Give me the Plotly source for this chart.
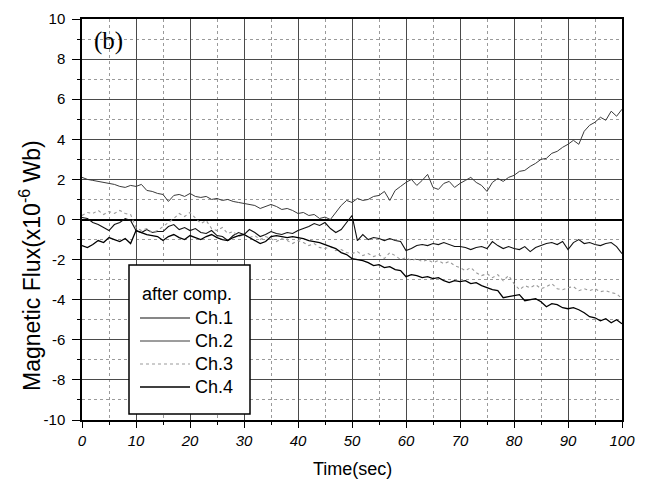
import plotly.graph_objects as go

time_s = list(range(0, 101))

ch1 = [0.10, 0.05, -0.15, -0.25, -0.40, -0.55, -0.25, -0.15, 0.05, -0.05,
       -0.55, -0.65, -0.50, -0.65, -0.60, -0.60, -0.35, -0.25, -0.50, -0.40,
       -0.55, -0.45, -0.65, -0.70, -0.55, -0.80, -0.85, -1.05, -0.80, -0.65,
       -0.75, -0.50, -0.65, -0.85, -0.75, -0.60, -0.70, -0.75, -0.65, -0.70,
       -0.55, -0.45, -0.35, -0.20, -0.30, -0.15, -0.45, -0.65, -0.50, -0.15,
       0.20, -1.05, -0.75, -1.00, -0.90, -0.95, -1.05, -0.95, -1.05, -1.10,
       -1.55, -1.45, -1.30, -1.25, -1.30, -1.20, -1.25, -1.15, -1.25, -1.35,
       -1.35, -1.40, -1.50, -1.40, -1.35, -1.45, -1.10, -1.30, -1.45, -1.35,
       -1.45, -1.50, -1.35, -1.60, -1.40, -1.30, -1.20, -1.15, -1.25, -1.10,
       -1.50, -1.15, -1.00, -1.20, -1.15, -1.25, -1.30, -1.20, -1.15, -1.35,
       -1.70]

ch2 = [2.10, 2.00, 1.95, 1.90, 1.85, 1.80, 1.75, 1.65, 1.60, 1.70,
       1.65, 1.75, 1.45, 1.40, 1.30, 1.25, 0.90, 1.20, 1.25, 1.15,
       1.30, 1.15, 1.10, 1.15, 1.00, 1.05, 0.95, 1.00, 0.90, 0.85,
       0.80, 0.75, 0.70, 0.55, 0.65, 0.75, 0.65, 0.50, 0.55, 0.45,
       0.30, 0.35, 0.20, 0.25, 0.05, 0.12, 0.00, 0.35, 0.70, 0.95,
       0.85, 1.05, 0.95, 1.00, 1.15, 1.20, 1.40, 0.95, 1.45, 1.65,
       1.85, 2.00, 1.70, 1.95, 2.25, 1.60, 1.50, 1.80, 1.90, 1.60,
       1.80, 1.95, 2.10, 1.85, 1.70, 1.40, 1.85, 2.05, 1.90, 2.10,
       2.20, 2.40, 2.45, 2.65, 2.80, 3.00, 3.05, 3.30, 3.40, 3.60,
       3.75, 3.95, 3.75, 4.40, 4.70, 4.85, 5.10, 4.95, 5.40, 5.15,
       5.50]

ch3 = [0.20, 0.35, 0.30, 0.45, 0.25, 0.40, 0.30, 0.45, 0.30, 0.25,
       -0.40, -0.55, -0.45, -0.65, -0.55, -0.35, -0.15, 0.05, 0.30, 0.15,
       0.35, 0.10, -0.20, -0.05, -0.45, -0.55, -0.40, -0.70, -0.60, -0.85,
       -0.75, -0.90, -0.80, -1.00, -0.85, -0.95, -1.10, -0.95, -1.05, -1.20,
       -1.05, -1.15, -1.30, -1.20, -1.40, -1.45, -1.35, -1.55, -1.50, -1.65,
       -1.70, -1.60, -1.80, -1.70, -1.85, -1.75, -1.95, -1.65, -1.80, -2.00,
       -1.90, -2.05, -1.95, -2.10, -2.00, -2.15, -2.05, -2.20, -2.10, -2.30,
       -2.40, -2.55, -2.40, -2.65, -2.80, -2.70, -2.90, -2.75, -3.05, -2.80,
       -3.20, -3.50, -3.30, -3.40, -3.25, -3.45, -3.35, -3.20, -3.45, -3.50,
       -3.40, -3.35, -3.55, -3.45, -3.55, -3.45, -3.60, -3.55, -3.65, -3.70,
       -3.95]

ch4 = [-1.30, -1.40, -1.25, -1.05, -1.15, -0.90, -1.00, -1.10, -0.95, -1.20,
       -0.55, -0.65, -0.75, -0.80, -0.85, -1.05, -0.85, -0.75, -0.90, -1.00,
       -0.80, -0.90, -1.00, -0.85, -0.75, -0.90, -1.00, -1.05, -0.90, -0.80,
       -0.75, -0.90, -1.05, -1.20, -1.10, -0.85, -0.80, -0.85, -0.90, -0.85,
       -0.90, -0.95, -1.05, -1.10, -1.15, -1.25, -1.35, -1.45, -1.65, -1.75,
       -1.95, -2.00, -2.05, -2.15, -2.30, -2.25, -2.40, -2.35, -2.50, -2.55,
       -2.85, -2.75, -2.80, -2.90, -2.85, -2.95, -2.90, -3.05, -3.15, -3.05,
       -3.10, -3.05, -3.20, -3.15, -3.30, -3.40, -3.50, -3.55, -3.90, -3.85,
       -3.80, -3.75, -4.05, -4.00, -3.95, -4.10, -4.35, -4.20, -4.25, -4.40,
       -4.45, -4.40, -4.50, -4.65, -4.85, -4.90, -5.05, -4.95, -5.15, -5.00,
       -5.20]

x_ticks = [0, 10, 20, 30, 40, 50, 60, 70, 80, 90, 100]
y_ticks = [-10, -8, -6, -4, -2, 0, 2, 4, 6, 8, 10]

legend_title = "after comp."
names = ["Ch.1", "Ch.2", "Ch.3", "Ch.4"]
styles = [
    dict(color="#111111", width=1.1),
    dict(color="#3a3a3a", width=1.0),
    dict(color="#9a9a9a", width=1.1, dash="dot"),
    dict(color="#000000", width=1.3),
]
values = [ch1, ch2, ch3, ch4]

fig = go.Figure()
for name, vals, line in zip(names, values, styles):
    fig.add_trace(go.Scatter(x=time_s, y=vals, mode="lines", name=name,
                             line=line, showlegend=False))

font_family = "Liberation Sans, Arial, sans-serif"

# page body has an 8px offset; plot area spans x 82..622, y 19..420 on screen
L, T = 74, 11
PW, PH = 540, 401


def px_x(px):
    return (px - 82) / PW


def px_y(py):
    return (420 - py) / PH


shapes = [dict(type="rect", xref="paper", yref="paper",
               x0=px_x(129), x1=px_x(250), y0=px_y(414), y1=px_y(265),
               line=dict(color="black", width=1.5), fillcolor="white",
               layer="above")]
annotations = [
    dict(text="Magnetic Flux(x10<sup>-6</sup> Wb)", xref="paper", yref="paper",
         x=px_x(30), y=px_y(266), showarrow=False,
         textangle=-90, font=dict(size=23, family=font_family),
         xanchor="center", yanchor="middle"),
    dict(text="(b)", xref="paper", yref="paper",
         x=px_x(108), y=px_y(41), showarrow=False,
         font=dict(size=25, family="Liberation Serif, Times New Roman, serif"),
         xanchor="center", yanchor="middle"),
    dict(text=legend_title, xref="paper", yref="paper",
         x=px_x(140), y=px_y(294), showarrow=False,
         font=dict(size=18, family=font_family), xanchor="left", yanchor="middle"),
    dict(text="Time(sec)", xref="paper", yref="paper",
         x=px_x(352), y=px_y(469), showarrow=False,
         font=dict(size=18, family=font_family), xanchor="center", yanchor="middle"),
]
item_y = [318, 341, 364, 387]
for name, line, iy in zip(names, styles, item_y):
    shapes.append(dict(type="line", xref="paper", yref="paper",
                       x0=px_x(140), x1=px_x(190), y0=px_y(iy), y1=px_y(iy),
                       line=line, layer="above"))
    annotations.append(dict(text=name, xref="paper", yref="paper",
                            x=px_x(193), y=px_y(iy), showarrow=False,
                            font=dict(size=18, family=font_family),
                            xanchor="left", yanchor="middle"))

fig.update_layout(
    width=642, height=475,
    margin=dict(l=L, r=28, t=T, b=63, autoexpand=False),
    paper_bgcolor="white", plot_bgcolor="white",
    font=dict(family=font_family, color="black", size=15),
    showlegend=False,
    xaxis=dict(
        range=[0, 100], tickvals=x_ticks, ticktext=[str(v) for v in x_ticks],
        ticks="outside", ticklen=6, tickcolor="black", tickwidth=1,
        tickfont=dict(size=15, style="italic"), automargin=False,
        showgrid=True, gridcolor="#4a4a4a", gridwidth=1,
        showline=True, linecolor="black", linewidth=1.5, mirror=True,
        zeroline=False,
        minor=dict(dtick=5, tick0=0, showgrid=True, gridcolor="#9a9a9a",
                   griddash="dot", gridwidth=1, ticks="outside", ticklen=3,
                   tickcolor="black"),
    ),
    yaxis=dict(
        range=[-10, 10], tickvals=y_ticks, ticktext=[str(v) for v in y_ticks],
        ticks="outside", ticklen=8, tickcolor="black", tickwidth=1,
        tickfont=dict(size=15), ticklabelstandoff=4, automargin=False,
        showgrid=True, gridcolor="#4a4a4a", gridwidth=1,
        showline=True, linecolor="black", linewidth=1.5, mirror=True,
        zeroline=True, zerolinecolor="black", zerolinewidth=2,
        minor=dict(dtick=1, tick0=0, showgrid=True, gridcolor="#9a9a9a",
                   griddash="dot", gridwidth=1, ticks="outside", ticklen=3,
                   tickcolor="black"),
    ),
    shapes=shapes,
    annotations=annotations,
)

fig.write_html("out.html")
